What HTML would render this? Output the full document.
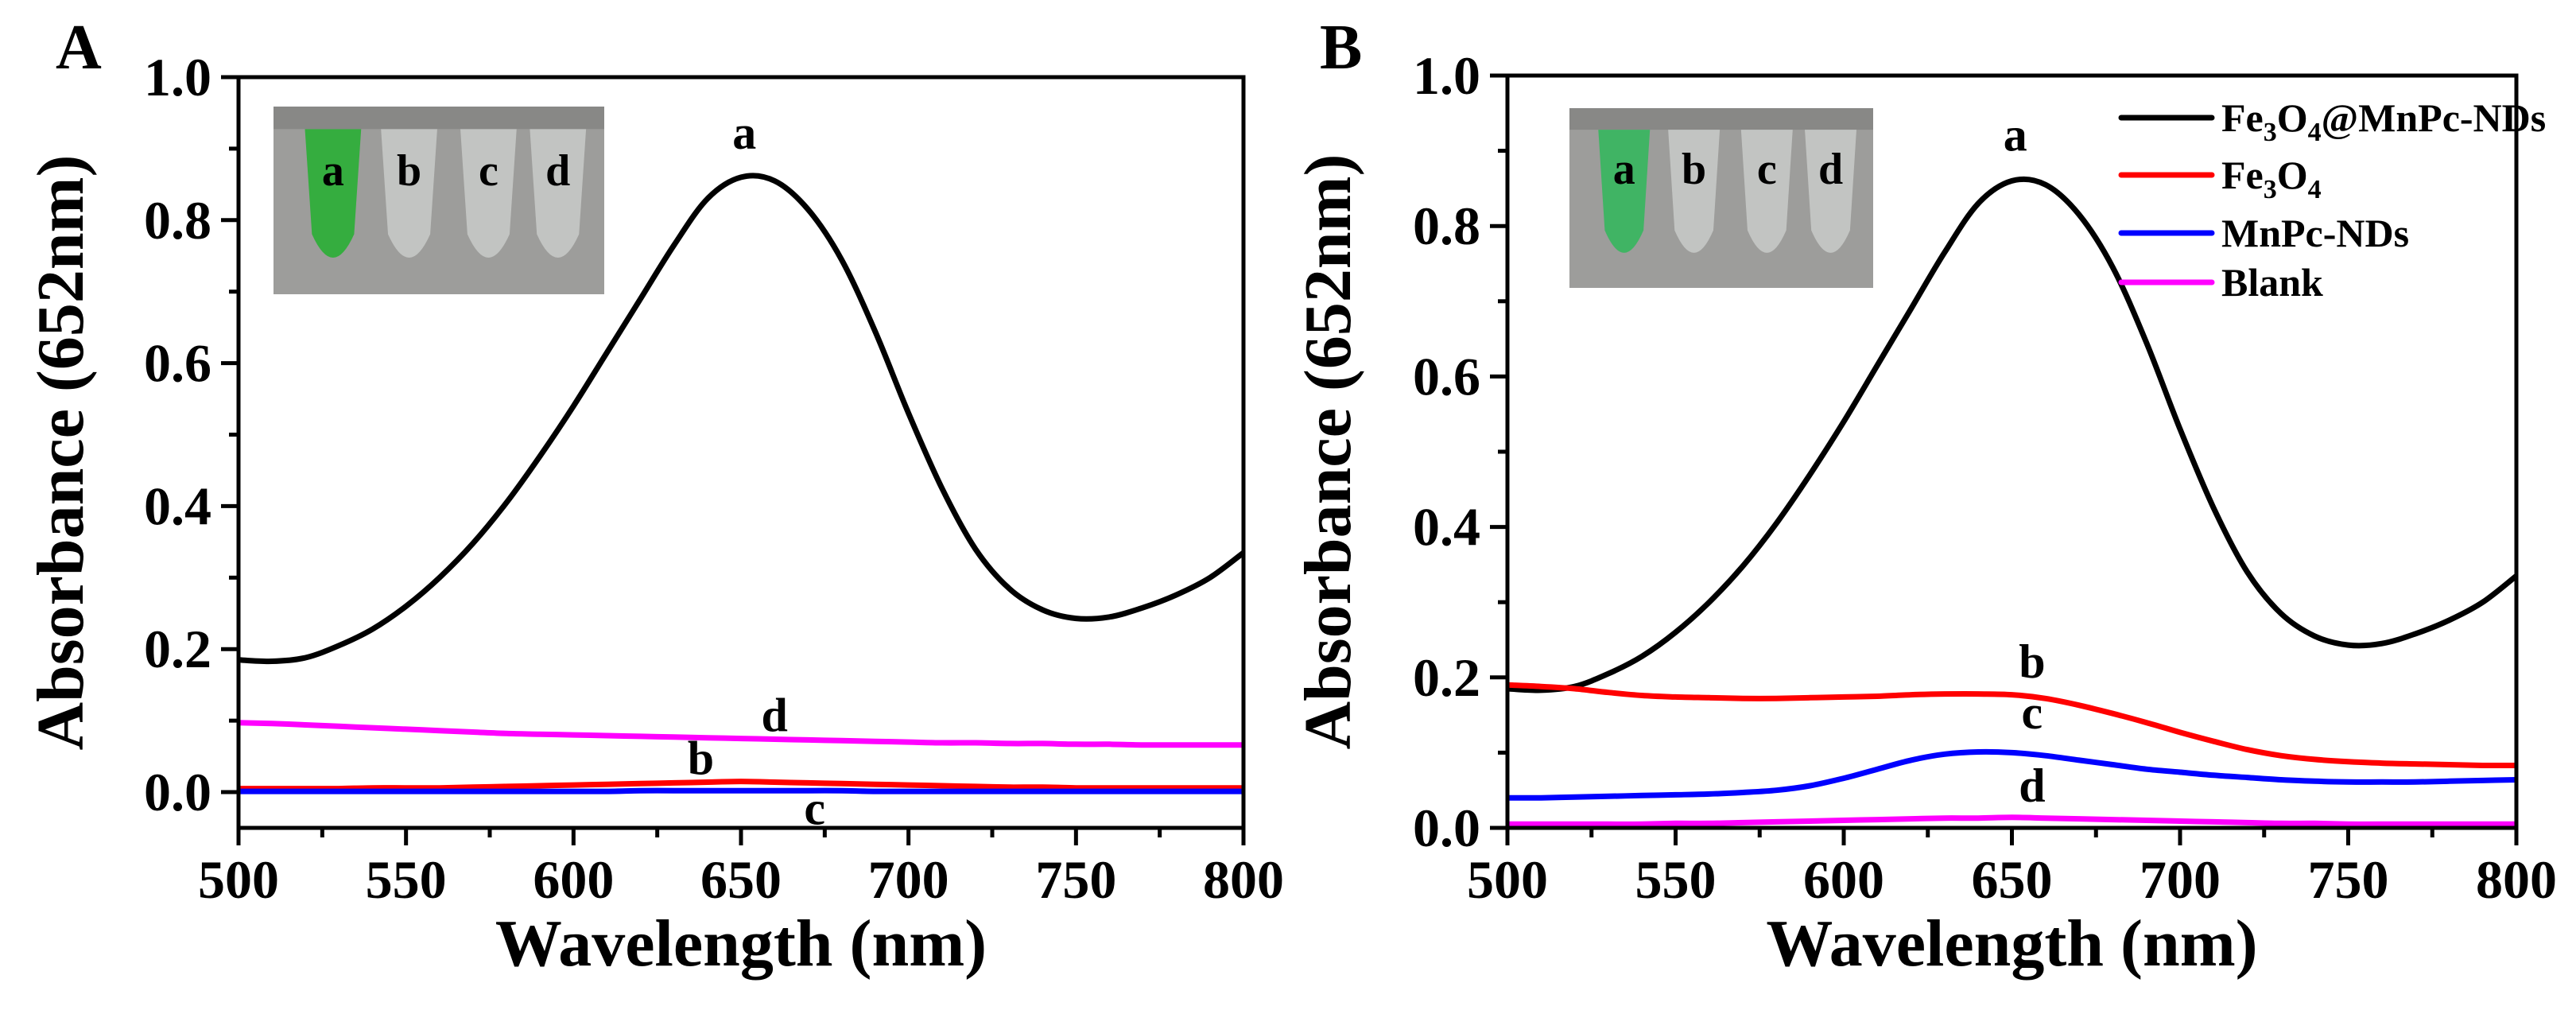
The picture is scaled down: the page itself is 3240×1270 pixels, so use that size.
<!DOCTYPE html>
<html><head><meta charset="utf-8"><style>
html,body{margin:0;padding:0;background:#fff;}
svg{display:block;}
text{font-family:"Liberation Serif",serif;font-weight:bold;fill:#000;}
</style></head><body>
<svg id="fig" width="3240" height="1270" viewBox="0 0 3240 1270" xmlns="http://www.w3.org/2000/svg"></svg>
<script>
const wavelengths = [500,510,520,530,540,550,560,570,580,590,600,610,620,630,640,650,660,670,680,690,700,710,720,730,740,750,760,770,780,790,800];
const seriesBlack = [0.185,0.183,0.188,0.205,0.228,0.26,0.3,0.348,0.405,0.47,0.54,0.615,0.69,0.765,0.83,0.86,0.855,0.815,0.745,0.645,0.53,0.425,0.34,0.285,0.255,0.243,0.245,0.258,0.276,0.3,0.335];
const seriesMagentaA = [0.097,0.096,0.094,0.092,0.09,0.088,0.086,0.084,0.082,0.081,0.08,0.079,0.078,0.077,0.076,0.075,0.074,0.073,0.072,0.071,0.07,0.069,0.069,0.068,0.068,0.067,0.067,0.066,0.066,0.066,0.066];
const seriesRedA = [0.005,0.005,0.005,0.005,0.006,0.006,0.006,0.007,0.008,0.009,0.01,0.011,0.012,0.013,0.014,0.015,0.014,0.013,0.012,0.011,0.01,0.009,0.008,0.007,0.007,0.006,0.006,0.006,0.006,0.006,0.006];
const seriesBlueA = [0.001,0.001,0.001,0.001,0.001,0.001,0.001,0.001,0.001,0.001,0.001,0.001,0.002,0.002,0.002,0.002,0.002,0.002,0.002,0.001,0.001,0.001,0.001,0.001,0.001,0.001,0.001,0.001,0.001,0.001,0.001];
const seriesRedB = [0.19,0.188,0.185,0.18,0.176,0.174,0.173,0.172,0.172,0.173,0.174,0.175,0.177,0.178,0.178,0.177,0.172,0.163,0.152,0.14,0.127,0.115,0.104,0.096,0.091,0.088,0.086,0.085,0.084,0.083,0.083];
const seriesBlueB = [0.04,0.04,0.041,0.042,0.043,0.044,0.045,0.047,0.05,0.056,0.066,0.078,0.09,0.098,0.101,0.1,0.096,0.09,0.084,0.078,0.074,0.07,0.067,0.064,0.062,0.061,0.061,0.061,0.062,0.063,0.064];
const seriesMagentaB = [0.005,0.005,0.005,0.005,0.005,0.006,0.006,0.007,0.008,0.009,0.01,0.011,0.012,0.013,0.013,0.014,0.013,0.012,0.011,0.01,0.009,0.008,0.007,0.006,0.006,0.005,0.005,0.005,0.005,0.005,0.005];
const xTicks = [500,550,600,650,700,750,800];
const yTicks = [0.0,0.2,0.4,0.6,0.8,1.0];
const legendLabels = ["Fe3O4@MnPc-NDs","Fe3O4","MnPc-NDs","Blank"];

const NS = "http://www.w3.org/2000/svg";
const svg = document.getElementById('fig');
function el(tag, attrs, parent){const e=document.createElementNS(NS,tag);for(const k in attrs)e.setAttribute(k,attrs[k]);(parent||svg).appendChild(e);return e;}

function smoothPath(pts){
  let d='M'+pts[0][0].toFixed(1)+' '+pts[0][1].toFixed(1);
  for(let i=0;i<pts.length-1;i++){
    const p0=pts[Math.max(0,i-1)],p1=pts[i],p2=pts[i+1],p3=pts[Math.min(pts.length-1,i+2)];
    const c1x=p1[0]+(p2[0]-p0[0])/6,c1y=p1[1]+(p2[1]-p0[1])/6;
    const c2x=p2[0]-(p3[0]-p1[0])/6,c2y=p2[1]-(p3[1]-p1[1])/6;
    d+=` C${c1x.toFixed(1)} ${c1y.toFixed(1)} ${c2x.toFixed(1)} ${c2y.toFixed(1)} ${p2[0].toFixed(1)} ${p2[1].toFixed(1)}`;
  }
  return d;
}

function panel(p){
  const g = el('g',{});
  
  
  const sx = v => p.x0 + (v-500)/300*(p.x1-p.x0);
  const sy = v => p.y1 - (v-p.ymin)/(1-p.ymin)*(p.y1-p.y0);
  const ins = el('g',{},g);
  
  
  el('rect',{x:p.ix,y:p.iy,width:p.iw,height:p.ih,fill:'#9d9d9b'},ins);
  el('rect',{x:p.ix,y:p.iy,width:p.iw,height:p.ih*0.12,fill:'#888886'},ins);
  const cx=[0.18,0.41,0.65,0.86], lab=['a','b','c','d'];
  cx.forEach((c,i)=>{
    const X=p.ix+c*p.iw, T=p.iy+p.ih*0.12, B=p.iy+p.ih*0.93, w=p.iw*0.085;
    el('path',{d:`M${X-w} ${T} L${X+w} ${T} L${X+w*0.75} ${B-p.ih*0.25} Q${X} ${B} ${X-w*0.75} ${B-p.ih*0.25} Z`,fill:i==0?p.green:'#c4c6c4',opacity:0.95},ins);
    const t=el('text',{x:X,y:p.iy+p.ih*0.42,'font-size':56,'text-anchor':'middle'},ins);t.textContent=lab[i];
  });
  p.series.forEach(s=>{
    const pts = wavelengths.map((w,i)=>[sx(w),sy(s.data[i])]);
    const path = el('path',{d:smoothPath(pts),fill:'none',stroke:s.color,'stroke-width':7,'stroke-linejoin':'round'},g);
    
    
  });
  p.labels.forEach(l=>{
    const t=el('text',{x:sx(l[1]),y:sy(l[2]),'font-size':60,'text-anchor':'middle'},g);
    t.textContent=l[0];
    
    
  });
  const fr = el('rect',{x:p.x0,y:p.y0,width:p.x1-p.x0,height:p.y1-p.y0,fill:'none',stroke:'#000','stroke-width':5},g);
  
  
  for(let v=500; v<=800; v+=25){
    const major = xTicks.includes(v);
    el('line',{x1:sx(v),x2:sx(v),y1:p.y1,y2:p.y1+(major?22:12),stroke:'#000','stroke-width':5},g);
  }
  xTicks.forEach(v=>{
    const t=el('text',{x:sx(v),y:p.y1+88,'font-size':68,'text-anchor':'middle'},g);
    t.textContent=v;
    
    
  });
  for(let k=0;k<=10;k++){
    const v=k/10, major = k%2==0;
    el('line',{x1:p.x0,x2:p.x0-(major?22:12),y1:sy(v),y2:sy(v),stroke:'#000','stroke-width':5},g);
  }
  yTicks.forEach(v=>{
    const t=el('text',{x:p.x0-34,y:sy(v)+23,'font-size':68,'text-anchor':'end'},g);
    t.textContent=v.toFixed(1);
    
    
  });
  const xt=el('text',{x:(p.x0+p.x1)/2,y:1214,'font-size':84,'text-anchor':'middle'},g);
  xt.textContent='Wavelength (nm)';
  
  
  const yt=el('text',{x:0,y:0,'font-size':84,'text-anchor':'middle',transform:`translate(${p.ytx},${(p.y0+p.y1)/2}) rotate(-90)`},g);
  yt.textContent='Absorbance (652nm)';
  
  
  const pl=el('text',{x:p.lx,y:86,'font-size':80},g);
  pl.textContent=p.letter;
  
  
  return {g,sx,sy};
}

panel({name:'panel-a',letter:'A',lx:70,x0:300,x1:1564,y0:97,y1:1041,ymin:-0.05,ytx:104,
  ix:344,iy:134,iw:416,ih:236,green:'#2fae3a',
  series:[{name:'line-a-black',color:'#000',data:seriesBlack},{name:'line-d-magenta',color:'#ff00ff',data:seriesMagentaA},{name:'line-b-red',color:'#ff0000',data:seriesRedA},{name:'line-c-blue',color:'#0000ff',data:seriesBlueA}],
  labels:[['a',651,0.9],['d',660,0.085],['b',638,0.025],['c',672,-0.045]]});

panel({name:'panel-b',letter:'B',lx:1660,x0:1896,x1:3165,y0:95,y1:1041,ymin:0,ytx:1698,
  ix:1974,iy:136,iw:382,ih:226,green:'#3bb561',
  series:[{name:'line-a-black',color:'#000',data:seriesBlack},{name:'line-b-red',color:'#ff0000',data:seriesRedB},{name:'line-c-blue',color:'#0000ff',data:seriesBlueB},{name:'line-d-magenta',color:'#ff00ff',data:seriesMagentaB}],
  labels:[['a',651,0.9],['b',656,0.2],['c',656,0.132],['d',656,0.035]]});

const legColors=['#000','#ff0000','#0000ff','#ff00ff'];
const legY=[148,220,293,355];
const lg=el('g',{});


legendLabels.forEach((lab,i)=>{
  const e=el('g',{},lg);
  
  
  el('line',{x1:2668,x2:2782,y1:legY[i],y2:legY[i],stroke:legColors[i],'stroke-width':7,'stroke-linecap':'round'},e);
  const t=el('text',{x:2794,y:legY[i]+17,'font-size':50},e);
  if(lab.startsWith('Fe3O4')){
    t.appendChild(document.createTextNode('Fe'));
    const s1=el('tspan',{dy:12,'font-size':34},t);s1.textContent='3';
    const s2=el('tspan',{dy:-12},t);s2.textContent='O';
    const s3=el('tspan',{dy:12,'font-size':34},t);s3.textContent='4';
    const s4=el('tspan',{dy:-12},t);s4.textContent=lab.slice(5);
  } else t.textContent=lab;
});
</script>
</body></html>
